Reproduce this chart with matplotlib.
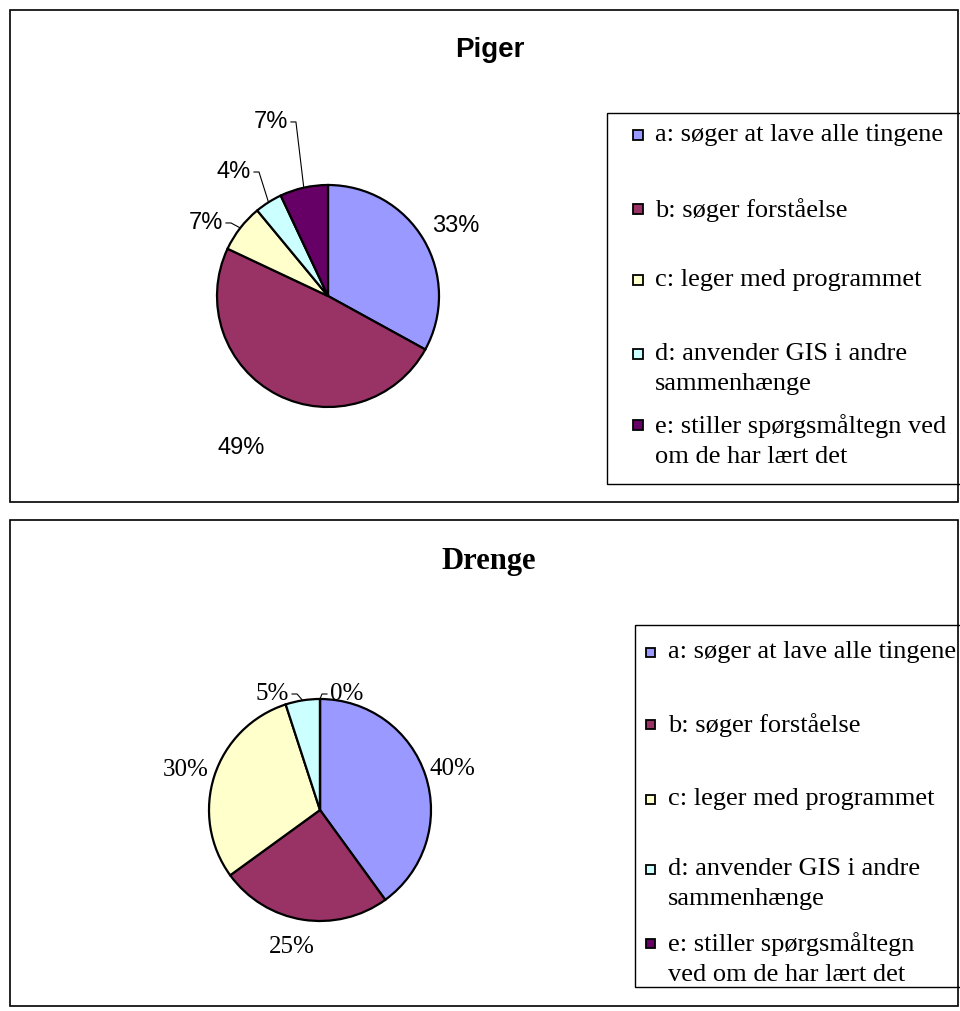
import matplotlib
matplotlib.use("Agg")
import matplotlib.pyplot as plt
from matplotlib.patches import Rectangle
import numpy as np

# ---- data ----
categories = ["a: søger at lave alle tingene", "b: søger forståelse",
              "c: leger med programmet", "d: anvender GIS i andre sammenhænge",
              "e: stiller spørgsmåltegn ved om de har lært det"]
piger_values = [33, 49, 7, 4, 7]
drenge_values = [40, 25, 30, 5, 0]
piger_title = "Piger"
drenge_title = "Drenge"

# legend display text (line breaks as in the original)
piger_legend = ["a: søger at lave alle tingene", "b: søger forståelse",
                "c: leger med programmet", "d: anvender GIS i andre\nsammenhænge",
                "e: stiller spørgsmåltegn ved\nom de har lært det"]
drenge_legend = ["a: søger at lave alle tingene", "b: søger forståelse",
                 "c: leger med programmet", "d: anvender GIS i andre\nsammenhænge",
                 "e: stiller spørgsmåltegn\nved om de har lært det"]

colors = ["#9999FF", "#993366", "#FFFFCC", "#CCFFFF", "#660066"]

W, H = 960, 1011
fig = plt.figure(figsize=(W / 100, H / 100), dpi=100)

# overlay axes in pixel coordinates
ov = fig.add_axes([0, 0, 1, 1])
ov.set_xlim(0, W)
ov.set_ylim(H, 0)
ov.axis("off")
ov.set_zorder(0)

SANS = "Liberation Sans"
SERIF = "Liberation Serif"


def panel(y0, y1):
    ov.add_patch(Rectangle((10, y0), 948, y1 - y0, fill=False, ec="black", lw=1.2))


def legend(x0, y0, x1, y1, labels, tx, ys, msize):
    ov.add_patch(Rectangle((x0, y0), x1 - x0, y1 - y0, fill=False, ec="black", lw=1.0))
    for lab, c, yc in zip(labels, colors, ys):
        ov.add_patch(Rectangle((tx - 22, yc - msize / 2 + 2), msize, msize,
                               fc=c, ec="black", lw=1.3))
        ov.text(tx, yc - 9, lab, family=SERIF, fontsize=19, va="top",
                ha="left", linespacing=1.45)


def pie(cx, cy, r, values, labpos, leaders, font, fsize):
    half = 2.2
    ax = fig.add_axes([(cx - half * r) / W, 1 - (cy + half * r) / H,
                       2 * half * r / W, 2 * half * r / H])
    ax.axis("off")
    wedges, _ = ax.pie(values, colors=colors, startangle=90, counterclock=False,
                       radius=1.0, wedgeprops=dict(edgecolor="black", linewidth=1.6),
                       normalize=True)
    ax.set_xlim(-half, half)
    ax.set_ylim(-half, half)
    ax.set_aspect("auto")
    total = sum(values)
    u = 1.0 / r  # one pixel in radius units
    for w, v, (lx, ly), ld in zip(wedges, values, labpos, leaders):
        ax.text(lx, ly, f"{100 * v / total:.0f}%", family=font,
                fontsize=fsize, ha="center", va="center")
        if ld:
            mid = np.deg2rad((w.theta1 + w.theta2) / 2)
            ex, ey = np.cos(mid), np.sin(mid)
            if ld == "r":
                sx = lx + 20 * u
                ax.plot([sx, sx + 5 * u, ex], [ly, ly, ey], color="black", lw=0.8)
            else:
                sx = lx - 20 * u
                ax.plot([sx, sx - 5 * u, ex], [ly, ly, ey], color="black", lw=0.8)
    return ax


# ---- top panel: Piger ----
panel(10, 502)
ov.text(490, 50, piger_title, family=SANS, fontsize=20, fontweight="bold",
        ha="center", va="center")
pie(328, 296, 111, piger_values,
    [(1.153, 0.631), (-0.78, -1.37), (-1.099, 0.658), (-0.847, 1.117), (-0.514, 1.568)],
    [None, None, "r", "r", "r"], SANS, 17)
legend(607, 113, 970, 484, piger_legend, 655, [133, 207, 278, 352, 423], 10)

# ---- bottom panel: Drenge ----
panel(520, 1006)
ov.text(489, 562, drenge_title, family=SERIF, fontsize=22, fontweight="bold",
        ha="center", va="center")
pie(320, 810, 111, drenge_values,
    [(1.19, 0.369), (-0.252, -1.234), (-1.207, 0.36), (-0.432, 1.045), (0.243, 1.045)],
    [None, None, None, "r", "l"], SERIF, 18)
legend(635, 625, 970, 987, drenge_legend, 668, [650, 722, 797, 867, 941], 9)

fig.savefig("out.png", dpi=100, facecolor="white")
